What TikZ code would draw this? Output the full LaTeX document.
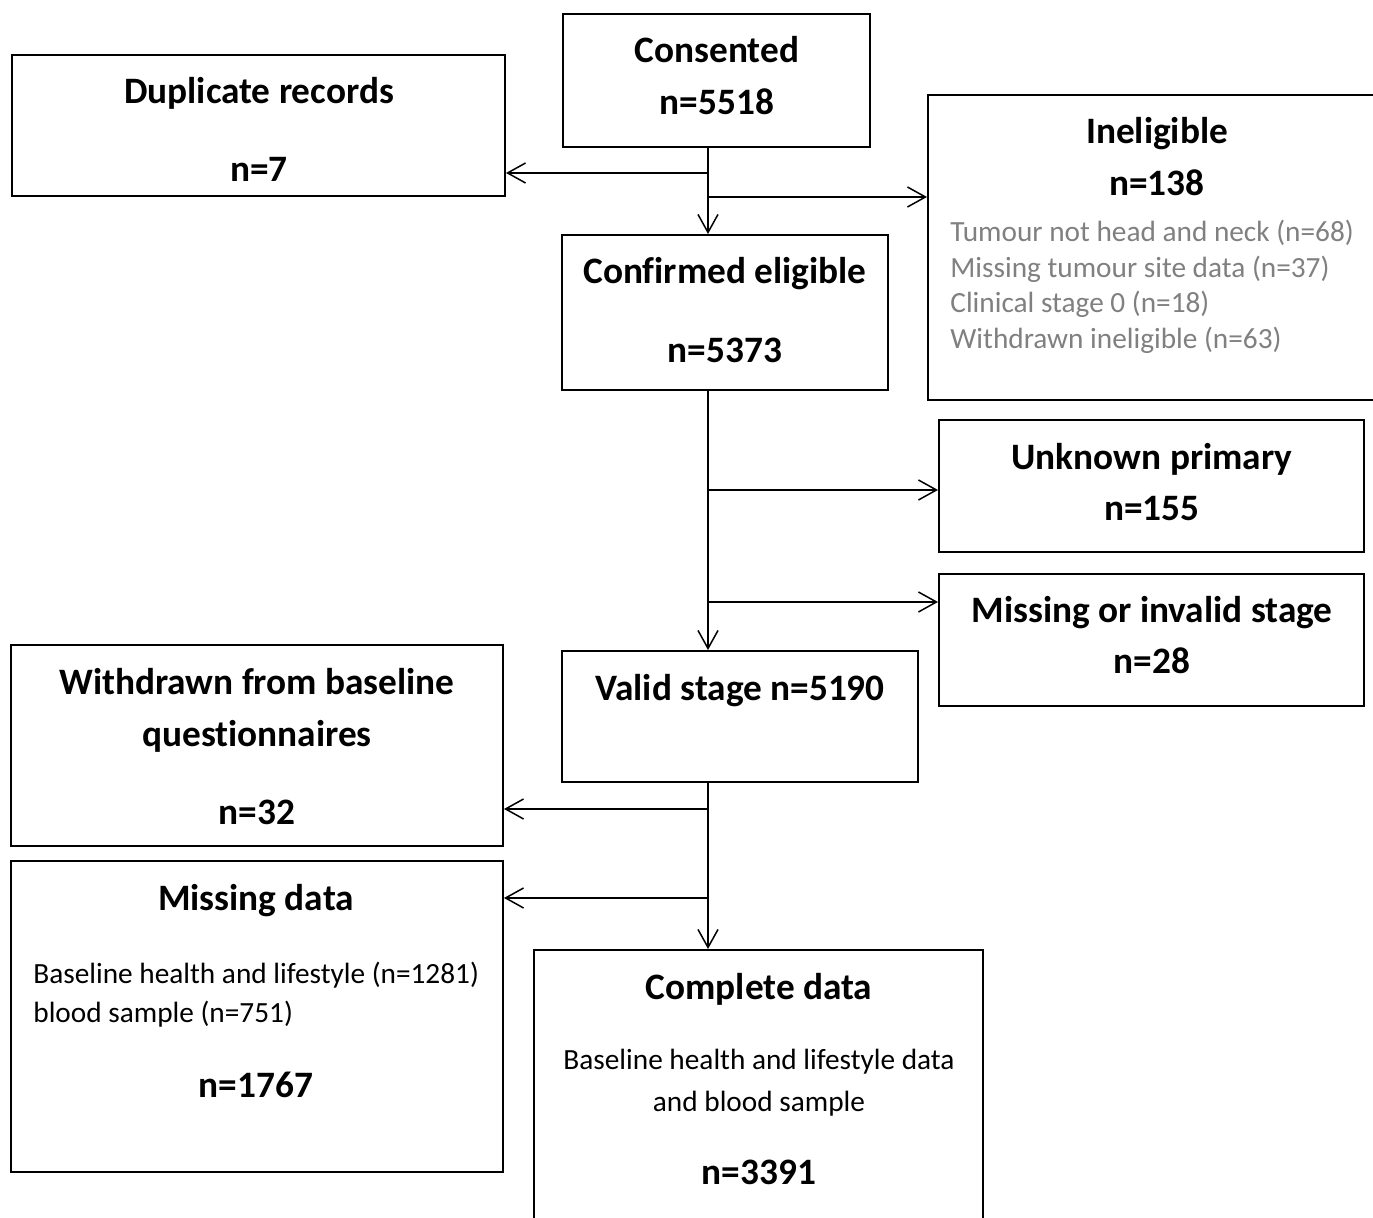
\documentclass[tikz,border=0pt]{standalone}
\usepackage{fontspec}
\setmainfont{Carlito}[Ligatures=NoCommon]
\usetikzlibrary{arrows.meta,fit}
\definecolor{greytext}{RGB}{128,128,128}
\begin{document}
\begin{tikzpicture}[x=0.5pt,y=-0.5pt,
  box/.style={draw=black, line width=1pt, inner sep=0pt, fill=none},
  ttl/.style={font=\bfseries\fontsize{18.65}{22}\selectfont, inner sep=0pt, anchor=base},
  txt/.style={font=\fontsize{14.65}{17.9}\selectfont, inner sep=0pt, anchor=base},
  gtxt/.style={txt, text=greytext, anchor=base west},
  conn/.style={draw=black, line width=0.75pt, -{Straight Barb[length=9pt, width=10pt, line width=0.75pt]}},
  seg/.style={draw=black, line width=0.75pt}]
\useasboundingbox (0,0) rectangle (1373,1218);
\clip (0,0) rectangle (1373,1218);

% boxes
\node[box, fit={(563,14) (870,147)}] (cons) {};
\node[box, fit={(12,55) (505,196)}] (dup) {};
\node[box, fit={(928,95) (1386,400)}] (inel) {};
\node[box, fit={(562,235) (888,390)}] (conf) {};
\node[box, fit={(939,420) (1364,552)}] (unk) {};
\node[box, fit={(939,574) (1364,706)}] (miss) {};
\node[box, fit={(562,651) (918,782)}] (valid) {};
\node[box, fit={(11,645) (503,846)}] (wd) {};
\node[box, fit={(11,861) (503,1172)}] (md) {};
\node[box, fit={(534,950) (983,1240)}] (comp) {};

% texts
\node[ttl] (t1) at (717,63) {Consented};
\node[ttl] (t2) at (717,115) {n=5518};
\node[ttl] (t3) at (259,104) {Duplicate records};
\node[ttl] (t4) at (259,182) {n=7};
\node[ttl] (t5) at (1157,144) {Ineligible};
\node[ttl] (t6) at (1157,196) {n=138};
\node[gtxt] (g1) at (950,241.5) {Tumour not head and neck (n=68)};
\node[gtxt] (g2) at (950,277.2) {Missing tumour site data (n=37)};
\node[gtxt] (g3) at (950,312.9) {Clinical stage 0 (n=18)};
\node[gtxt] (g4) at (950,348.6) {Withdrawn ineligible (n=63)};
\node[ttl] (t7) at (725,284) {Confirmed eligible};
\node[ttl] (t8) at (725,363) {n=5373};
\node[ttl] (t9) at (1152,470) {Unknown primary};
\node[ttl] (t10) at (1152,521) {n=155};
\node[ttl] (t11) at (1152,623) {Missing or invalid stage};
\node[ttl] (t12) at (1152,674) {n=28};
\node[ttl] (t13) at (740,701) {Valid stage n=5190};
\node[ttl] (t14) at (257,695) {Withdrawn from baseline};
\node[ttl] (t15) at (257,747) {questionnaires};
\node[ttl] (t16) at (257,825) {n=32};
\node[ttl] (t17) at (256,911) {Missing data};
\node[txt, anchor=base west] (m1) at (33,984) {Baseline health and lifestyle (n=1281)};
\node[txt, anchor=base west] (m2) at (33,1023) {blood sample (n=751)};
\node[ttl] (t18) at (256,1098) {n=1767};
\node[ttl] (t19) at (759,1000) {Complete data};
\node[txt] (c1) at (759,1070) {Baseline health and lifestyle data};
\node[txt] (c2) at (759,1112) {and blood sample};
\node[ttl] (t20) at (759,1185) {n=3391};

% connectors
\coordinate (j1) at (708,173);
\coordinate (j2) at (708,197);
\coordinate (j3) at (708,490);
\coordinate (j4) at (708,602);
\coordinate (j5) at (708,809);
\coordinate (j6) at (708,898);
\draw[conn] (cons.south -| j1) -- (conf.north -| j1);
\draw[conn] (j1) -- (dup.east |- j1);
\draw[conn] (j2) -- (inel.west |- j2);
\draw[conn] (conf.south -| j3) -- (valid.north -| j3);
\draw[conn] (j3) -- (unk.west |- j3);
\draw[conn] (j4) -- (miss.west |- j4);
\draw[conn] (valid.south -| j5) -- (comp.north -| j5);
\draw[conn] (j5) -- (wd.east |- j5);
\draw[conn] (j6) -- (md.east |- j6);
\end{tikzpicture}
\end{document}
